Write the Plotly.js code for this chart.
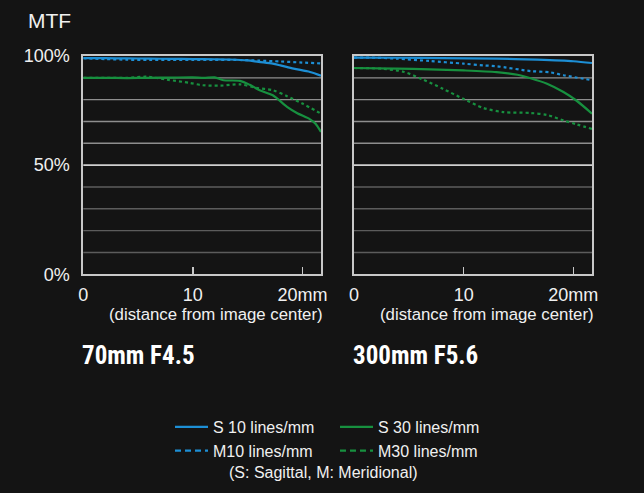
<!DOCTYPE html>
<html>
<head>
<meta charset="utf-8">
<script src="https://cdn.plot.ly/plotly-3.0.1.min.js"></script>
<style>
  html, body { margin: 0; padding: 0; background: #141414; }
  #chart { width: 644px; height: 493px; }
</style>
</head>
<body>
<div id="chart"></div>
<script>
// ---- Data ----
// 70mm F4.5
const s10_70_x = [0, 2, 4, 6, 8, 10, 12, 13.4, 15, 16, 17.3, 18, 19.2, 20.7, 21.7];
const s10_70_y = [99, 99, 98.9, 98.8, 98.7, 98.6, 98.5, 98.4, 98, 97.3, 96.5, 95.7, 94.2, 92.7, 91];
const m10_70_x = [0, 2, 4, 6, 8, 10, 12, 14, 16, 18, 20, 21.7];
const m10_70_y = [99, 98.6, 98.3, 98.2, 98.2, 98.2, 98.2, 98.2, 97.9, 97.5, 97, 96.6];
const s30_70_x = [0, 2, 4, 6, 8, 10, 11, 12, 12.8, 14.3, 15.2, 16.1, 17.3, 18.6, 19.5, 20.7, 21.2, 21.7];
const s30_70_y = [90, 90, 89.9, 90, 90.1, 90.2, 90.0, 90.2, 88.9, 88.6, 86.8, 84.3, 82, 76.7, 73.9, 71, 69, 65.2];
const m30_70_x = [0, 2, 4, 5.8, 7.6, 9.7, 10.9, 12.5, 14.3, 15.8, 17.3, 18.6, 20, 21.7];
const m30_70_y = [90, 90, 90, 90.5, 89.2, 87.7, 86.6, 86.4, 87, 85.4, 84.3, 81.6, 78.2, 73.6];
// 300mm F5.6
const s10_300_x = [0, 4, 8, 13, 16.7, 20, 21.7];
const s10_300_y = [99.3, 99.2, 99, 98.8, 98.3, 97.6, 96.8];
const m10_300_x = [0, 2, 3.9, 6.9, 10, 11.8, 13, 16.1, 17.9, 19.1, 21.7];
const m10_300_y = [99.3, 99.2, 98.8, 97.7, 96.5, 95.7, 95.3, 93.1, 92.5, 91.2, 88.9];
const s30_300_x = [0, 3.9, 6.9, 10, 13, 14.9, 16.1, 17.6, 19.1, 20.3, 21.7];
const s30_300_y = [94.5, 94.2, 93.9, 93.4, 92.6, 91.4, 89.8, 87.3, 83.5, 79.5, 73.6];
const m30_300_x = [0, 1.5, 2.7, 4.5, 6.3, 8.1, 10, 11.8, 13.6, 16.1, 17.6, 19.1, 20.3, 21.7];
const m30_300_y = [94.5, 94.4, 94.1, 92.8, 89.2, 85, 80.3, 76.2, 74.3, 73.9, 73, 70.5, 68.7, 66.6];

const seriesNames = ["S 10 lines/mm", "M10 lines/mm", "S 30 lines/mm", "M30 lines/mm"];
const xTickVals = [0, 10, 20];
const xTickText = ["0", "10", "20mm"];
const yTickVals = [0, 50, 100];
const yTickText = ["0%", "50%", "100%"];
const gridUpper = [60, 70, 80, 90];
const gridMid = [50];
const gridLower = [10, 20, 30, 40];
const panelTitles = ["70mm F4.5", "300mm F5.6"];
const axisNote = "(distance from image center)";
const legendNote = "(S: Sagittal, M: Meridional)";

// ---- Styles ----
const BLUE = "#1d8fd5";
const GREEN = "#17903f";
const TXT = "#f0f0f0";
const FONT = "Liberation Sans, Arial, sans-serif";
const TITLE_FONT = "Roboto Condensed, Open Sans Condensed, Liberation Sans Narrow, DejaVu Sans Condensed, sans-serif";
const chartDash = "3px,3px";
const legendDash = "6px,4px";

function line(x, y, color, dashed, xa, ya) {
  return {
    type: "scatter", mode: "lines", x: x, y: y, xaxis: xa, yaxis: ya,
    line: { color: color, width: 2.2, dash: dashed ? chartDash : "solid", shape: "spline", smoothing: 0.8 },
    showlegend: false, hoverinfo: "skip"
  };
}
function legendEntry(name, color, dashed, leg) {
  return {
    type: "scatter", mode: "lines", x: [null], y: [null], name: name, legend: leg,
    line: { color: color, width: 2.2, dash: dashed ? legendDash : "solid" },
    showlegend: true, hoverinfo: "skip"
  };
}

const data = [
  line(s10_70_x, s10_70_y, BLUE, false, "x", "y"),
  line(m10_70_x, m10_70_y, BLUE, true, "x", "y"),
  line(s30_70_x, s30_70_y, GREEN, false, "x", "y"),
  line(m30_70_x, m30_70_y, GREEN, true, "x", "y"),
  line(s10_300_x, s10_300_y, BLUE, false, "x2", "y2"),
  line(m10_300_x, m10_300_y, BLUE, true, "x2", "y2"),
  line(s30_300_x, s30_300_y, GREEN, false, "x2", "y2"),
  line(m30_300_x, m30_300_y, GREEN, true, "x2", "y2"),
  legendEntry(seriesNames[0], BLUE, false, "legend"),
  legendEntry(seriesNames[1], BLUE, true, "legend"),
  legendEntry(seriesNames[2], GREEN, false, "legend2"),
  legendEntry(seriesNames[3], GREEN, true, "legend2")
];

const W = 644, H = 493;
const px = v => v / W;
const py = v => 1 - v / H;

function xAxis(domain) {
  return {
    domain: domain, range: [0, 21.7], tickvals: xTickVals, ticktext: xTickText,
    ticks: "inside", ticklen: 7, tickwidth: 1.5, tickcolor: "#c8c8c8",
    showline: true, mirror: true, linecolor: "#c8c8c8", linewidth: 2,
    showgrid: false, zeroline: false, fixedrange: true,
    tickfont: { family: FONT, size: 18, color: TXT }, ticklabelstandoff: 3
  };
}
function yAxis(anchor, labels) {
  return {
    domain: [py(274.3), py(56)], range: [0, 100], anchor: anchor,
    tickvals: yTickVals, ticktext: yTickText, showticklabels: labels, ticks: "",
    showline: true, mirror: true, linecolor: "#c8c8c8", linewidth: 2,
    showgrid: false, zeroline: false, fixedrange: true,
    tickfont: { family: FONT, size: 18, color: TXT }, ticklabelstandoff: 8
  };
}

const shapes = [];
[["x", "y"], ["x2", "y2"]].forEach(([xa, ya]) => {
  const add = (vals, color, w) => vals.forEach(v => shapes.push({
    type: "line", xref: xa + " domain", yref: ya, x0: 0, x1: 1, y0: v, y1: v,
    line: { color: color, width: w }, layer: "below"
  }));
  add(gridLower, "#5c5c5c", 1.4);
  add(gridUpper, "#8e8e8e", 1.4);
  add(gridMid, "#cfcfcf", 1.8);
});

const titleFont = { family: TITLE_FONT, size: 25, color: "#ffffff", weight: 700, stretch: "condensed" };
const annotations = [
  { text: "MTF", xref: "paper", yref: "paper", x: px(26), y: py(20), xanchor: "left", yanchor: "middle",
    showarrow: false, font: { family: FONT, size: 21, color: TXT } },
  { text: axisNote, xref: "x domain", yref: "paper", x: 1, y: py(314), xanchor: "right", yanchor: "middle",
    xshift: 4, showarrow: false, font: { family: FONT, size: 16.8, color: TXT } },
  { text: axisNote, xref: "x2 domain", yref: "paper", x: 1, y: py(314), xanchor: "right", yanchor: "middle",
    xshift: 4, showarrow: false, font: { family: FONT, size: 16.8, color: TXT } },
  { text: panelTitles[0], xref: "paper", yref: "paper", x: px(80), y: py(355), xanchor: "left", yanchor: "middle",
    showarrow: false, font: titleFont },
  { text: panelTitles[1], xref: "paper", yref: "paper", x: px(351), y: py(355), xanchor: "left", yanchor: "middle",
    showarrow: false, font: titleFont },
  { text: legendNote, xref: "paper", yref: "paper", x: px(227), y: py(472), xanchor: "left", yanchor: "middle",
    showarrow: false, font: { family: FONT, size: 16, color: TXT } }
];

const legendBase = {
  orientation: "v", xanchor: "left", yanchor: "top", bgcolor: "rgba(0,0,0,0)",
  borderwidth: 0, font: { family: FONT, size: 16, color: TXT }, itemwidth: 33,
  tracegroupgap: 0
};

const layout = {
  width: W, height: H,
  margin: { l: 0, r: 0, t: 0, b: 0 },
  paper_bgcolor: "#141414", plot_bgcolor: "#141414",
  xaxis: xAxis([px(83.3), px(321)]),
  yaxis: yAxis("x", true),
  xaxis2: xAxis([px(354), px(592)]),
  yaxis2: yAxis("x2", false),
  shapes: shapes,
  annotations: annotations,
  legend: Object.assign({}, legendBase, { x: px(170), y: py(410) }),
  legend2: Object.assign({}, legendBase, { x: px(335), y: py(410) }),
  showlegend: true
};

Plotly.newPlot("chart", data, layout, { staticPlot: true, displayModeBar: false });
</script>
</body>
</html>
